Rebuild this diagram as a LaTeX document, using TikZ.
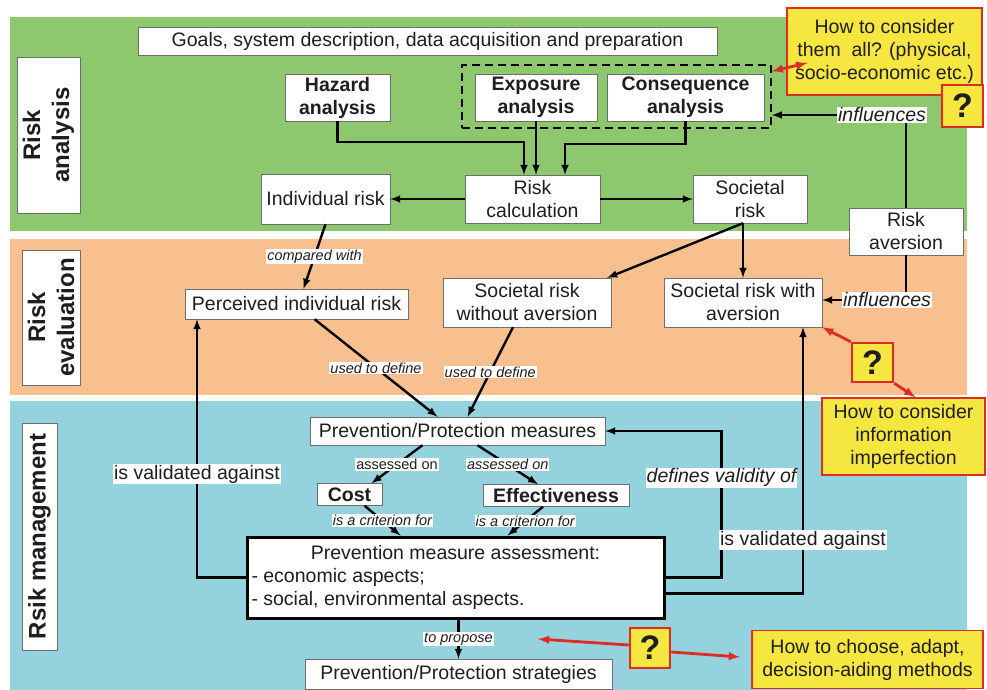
\documentclass[tikz,border=0pt]{standalone}
\usepackage{fontspec}
\setmainfont{Liberation Sans}
\usetikzlibrary{positioning,arrows}
\definecolor{bandgreen}{RGB}{141,200,110}
\definecolor{bandorange}{RGB}{248,192,142}
\definecolor{bandblue}{RGB}{148,210,222}
\definecolor{qyellow}{RGB}{246,230,64}
\definecolor{qred}{RGB}{222,44,34}
\definecolor{boxline}{RGB}{110,110,110}
\definecolor{ink}{RGB}{30,30,30}
\tikzset{
boxsize/.style 2 args={minimum width=#1, minimum height=#2},
blk/.style={draw=boxline, fill=white, inner sep=2pt, align=center, text=ink, font=\fontsize{19.5}{23}\selectfont},
bblk/.style={blk, font=\bfseries\fontsize{19.5}{23}\selectfont},
phase/.style={draw=boxline, fill=white, rotate=90, align=center, inner sep=0pt, text=ink, font=\bfseries\fontsize{24}{29}\selectfont},
tag/.style={fill=white, inner sep=1pt, text=ink, font=\itshape\fontsize{14.5}{16}\selectfont},
bigtag/.style={fill=white, inner sep=1pt, text=ink, font=\fontsize{19.5}{22}\selectfont},
note/.style={draw=qred, line width=1.5pt, fill=qyellow, align=center, inner sep=0pt, text=ink, font=\fontsize{19.5}{23}\selectfont},
qmark/.style={draw=qred, line width=2.5pt, fill=qyellow, inner sep=0pt, text=ink, font=\bfseries\fontsize{34}{36}\selectfont},
flow/.style={-latex, line width=2.4pt},
link/.style={line width=2.4pt},
redarr/.style={-latex, draw=qred, line width=2.8pt}
}

\begin{document}
\begin{tikzpicture}[x=1pt, y=-1pt]
\useasboundingbox (0,0) rectangle (987,690);
\fill[white] (0,0) rectangle (987,690);

% the three phases
\fill[bandgreen] (10,17) rectangle (967,231);
\fill[bandorange] (10,239) rectangle (967,395);
\fill[bandblue] (10,401) rectangle (967,690);
\node[phase, boxsize={156}{63}] (ra) at (48.5,135) {Risk\\analysis};
\node[phase, boxsize={135}{58}] (re) at (51,317.5) {Risk\\evaluation};
\node[phase, boxsize={227}{35}] (rm) at (39.5,536.5) {Rsik management};

% risk analysis
\node[blk, boxsize={579}{28}] (goals) at (427.5,41) {Goals, system description, data acquisition and preparation};
\node[draw, line width=1.5pt, dash pattern=on 8pt off 5pt, boxsize={309}{63}] (grp) at (616.5,96.5) {};
\node[bblk, boxsize={105}{47}] (hazard) at (337.5,97.5) {Hazard\\analysis};
\node[bblk, boxsize={122}{47}] (expo) at (536,97.5) {Exposure\\analysis};
\node[bblk, boxsize={157}{47}] (conseq) at (685.5,97.5) {Consequence\\analysis};
\node[blk, boxsize={129}{50}] (indiv) at (325.5,199) {Individual risk};
\node[blk, boxsize={135}{48}] (calc) at (532.5,199) {Risk\\calculation};
\node[blk, boxsize={114}{48}] (societal) at (750,199) {Societal\\risk};
\node[blk, boxsize={114}{47}] (aversion) at (906,231.5) {Risk\\aversion};
\node[bigtag, font=\itshape\fontsize{19.5}{22}\selectfont] (infl1) at (882,115) {influences};

% risk evaluation
\node[blk, boxsize={223}{30}] (perceived) at (296.5,304) {Perceived individual risk};
\node[blk, boxsize={168}{49}] (without) at (527,302.5) {Societal risk\\without aversion};
\node[blk, boxsize={158}{49}] (withav) at (743,302.5) {Societal risk with\\aversion};
\node[bigtag, font=\itshape\fontsize{19.5}{22}\selectfont] (infl2) at (887,300) {influences};

% risk management
\node[blk, boxsize={295}{28}] (ppm) at (457.5,431) {Prevention/Protection measures};
\node[bblk, boxsize={65}{22}] (cost) at (349.5,494.5) {Cost};
\node[bblk, boxsize={146}{22}] (eff) at (556,495.5) {Effectiveness};
\node[blk, draw=black, line width=3pt, boxsize={417}{81}, align=left] (pma) at (455.5,577.5)
  {\makebox[408pt]{Prevention measure assessment:}\\- economic aspects;\\- social, environmental aspects.};
\node[blk, boxsize={307}{30}] (pps) at (458.5,674) {Prevention/Protection strategies};

% open questions
\node[note, boxsize={195}{87}] (yel1) at (884.5,51.5) {How to consider\\them\ \ all? (physical,\\socio-economic etc.)};
\node[qmark, boxsize={41}{42}] (q1) at (962.5,106) {?};
\node[note, boxsize={163}{77}] (yel2) at (903.5,436.5) {How to consider\\information\\imperfection};
\node[qmark, boxsize={41}{39}] (q2) at (872.5,362.5) {?};
\node[note, boxsize={231}{58}] (yel3) at (867.5,659.5) {How to choose, adapt,\\decision-aiding methods};
\node[qmark, boxsize={40}{40}] (q3) at (650,648) {?};

% connectors
\coordinate (hzbend) at (524,142);
\coordinate (csbend) at (565,144);
\draw[flow] (hazard.south) |- (hzbend) -- (hzbend |- calc.north);
\draw[flow] (expo.south) -- (expo.south |- calc.north);
\draw[flow] (conseq.south) |- (csbend) -- (csbend |- calc.north);
\draw[flow] (calc.west) -- (indiv.east);
\draw[flow] (calc.east) -- (societal.west);
\draw[link] (aversion.north) -- (aversion.north |- infl1.south);
\draw[flow] (infl1.west) -- (infl1.west -| grp.east);
\draw[link] (aversion.south) -- (aversion.south |- infl2.north);
\draw[flow] (infl2.west) -- (infl2.west -| withav.east);

\draw[flow] (indiv.south) -- node[tag] {compared with} ([xshift=7]perceived.north);
\draw[flow] (withav.north |- societal.south) -- (withav.north);
\draw[flow] (withav.north |- societal.south) -- ([xshift=-4]without.north east);
\draw[flow] ([xshift=18]perceived.south) -- node[tag] {used to define} ([xshift=-20]ppm.north);
\draw[flow] ([xshift=-14]without.south) -- node[tag] {used to define} ([xshift=10]ppm.north);

\draw[flow] ([xshift=-35]ppm.south) -- node[tag, font=\fontsize{14.5}{16}\selectfont] {assessed on} ([xshift=22]cost.north);
\draw[flow] ([xshift=20]ppm.south) -- node[tag] {assessed on} ([xshift=-18]eff.north);
\draw[flow] ([xshift=15]cost.south) -- node[tag] {is a criterion for} ([xshift=-55]pma.north);
\draw[flow] ([xshift=-13]eff.south) -- node[tag] {is a criterion for} ([xshift=52]pma.north);
\draw[flow] (pma.west) -| node[bigtag, pos=0.7] {is validated against} ([xshift=-99.5]perceived.south);
\draw[flow] (pma.east) -- ++(56,0) |- node[bigtag, font=\itshape\fontsize{19.5}{22}\selectfont, pos=0.34] {defines validity of} (ppm.east);
\draw[flow] ([yshift=-16]pma.east) -| node[bigtag, pos=0.6] {is validated against} ([xshift=60]withav.south);
\draw[flow] (pps.north |- pma.south) -- node[tag] {to propose} (pps.north);

% red pointers
\coordinate (tipL) at (538,639);
\coordinate (tipR) at (740,657);
\draw[redarr, latex-latex] ([xshift=21,yshift=-11.5]yel1.west) -- ([yshift=-7]grp.north east);
\draw[redarr] (q2.north west) -- (withav.south east);
\draw[redarr] (q2.south east) -- ([xshift=12]yel2.north);
\draw[redarr] ([yshift=3]q3.west) -- (tipL);
\draw[redarr] ([yshift=-4]q3.east) -- (tipR);
\end{tikzpicture}
\end{document}
